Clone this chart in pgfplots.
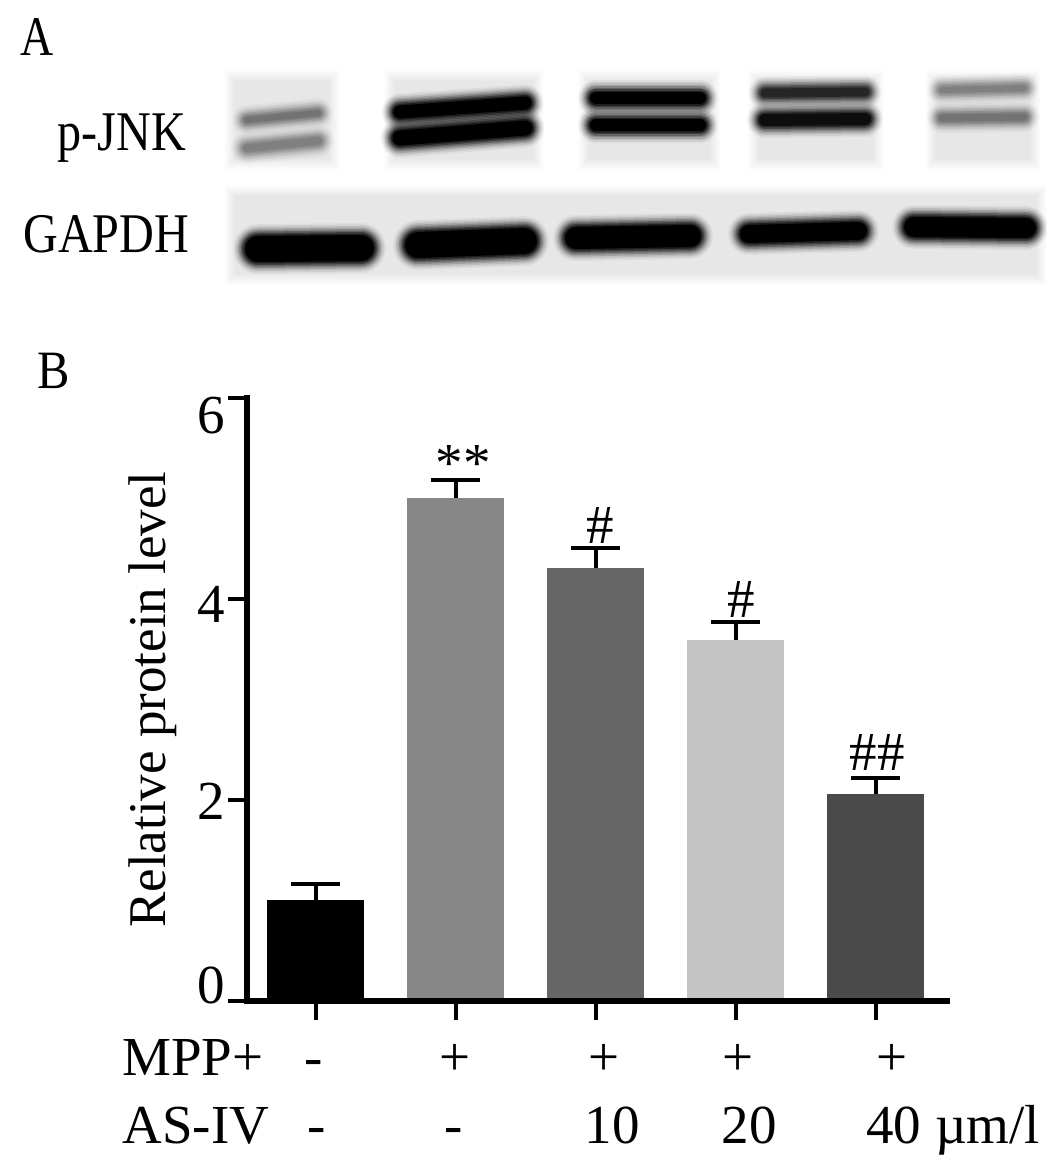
\documentclass[border=0pt]{standalone}
\usepackage{pgfplots}
\pgfplotsset{compat=1.18}
\usepackage{fontspec}
\setmainfont{Liberation Serif}
\newcommand\band[6]{%
  \foreach \w/\o in {24/.04,21/.06,18/.09,15/.13,12/.18,9/.26,6/.36,3/.5}{%
    \draw[#6,line cap=round,line width={(#5+\w)*0.5pt},opacity=\o] (#1,#2)--(#3,#4);
  }%
  \draw[#6,line cap=round,line width={(#5)*0.5pt}] (#1,#2)--(#3,#4);
}
\newcommand\lane[4]{%
  \fill[white] (#1,#2) rectangle (#3,#4);
  \foreach \i in {0,1,2,3,4,5,6,7,8,9,10,11}{%
    \fill[black,opacity=.009] (#1+\i,#2+\i) rectangle (#3-\i,#4-\i);
  }%
}
\newcommand\fnt{\fontsize{27.5}{30}\selectfont}
\begin{document}
\begin{tikzpicture}
\begin{scope}[x=0.5pt,y=-0.5pt]
\path (0,0) rectangle (1063,1174);
% lanes, upper blot
\lane{224}{70}{340}{170}
\lane{384}{70}{544}{170}
\lane{578}{70}{721}{170}
\lane{748}{70}{884}{170}
\lane{925}{70}{1041}{170}
% upper blot bands
\begin{scope}
\clip (224,70) rectangle (1041,170);
\band{247}{120}{318}{113}{6}{black!55}
\band{247}{148}{318}{141}{8}{black!50}
\band{400}{112}{525}{103}{13}{black}
\band{400}{138}{525}{128}{15}{black}
\band{596}{98}{700}{98}{12}{black}
\band{596}{125}{700}{125}{12}{black}
\band{765}{93}{865}{92}{9}{black!85}
\band{765}{120}{865}{119}{12}{black!95}
\band{942}{90}{1024}{88}{6}{black!50}
\band{942}{118}{1024}{117}{7}{black!55}
\end{scope}
% lower blot
\lane{224}{185}{1047}{285}
\begin{scope}
\clip (224,185) rectangle (1047,285);
\band{258}{249}{361}{248}{26}{black}
\band{418}{245}{524}{241}{26}{black}
\band{576}{238}{690}{236}{22}{black}
\band{749}{234}{858}{231}{18}{black}
\band{914}{227}{1026}{228}{20}{black}
\end{scope}
% panel text
\node[anchor=base west,inner sep=0pt] at (20,55) {\fontsize{28}{30}\selectfont\scalebox{.82}[1]{A}};
\node[anchor=base west,inner sep=0pt] at (37,388) {\fontsize{27}{30}\selectfont\scalebox{.9}[1]{B}};
\node[anchor=base west,inner sep=0pt] at (57,150) {\fontsize{28}{30}\selectfont\scalebox{.86}[1]{p-JNK}};
\node[anchor=base west,inner sep=0pt] at (23,252) {\fontsize{28}{30}\selectfont\scalebox{.86}[1]{GAPDH}};
\end{scope}
\begin{axis}[
  at={(123.5pt,-500.5pt)},anchor=south west,
  scale only axis,width=350pt,height=301.5pt,
  xmin=-0.4893,xmax=4.5107,ymin=0,ymax=6,
  axis lines=left,axis line style={line width=2.6pt,-,line cap=rect},
  clip=false,axis on top,
  xtick={0,1,2,3,4},xticklabels={},
  ytick={0,2,4,6},
  yticklabels={\raisebox{-1pt}{0},\raisebox{-9.5pt}{2},\raisebox{-11.5pt}{4},\raisebox{-17.5pt}{6}},
  yticklabel style={anchor=base east,inner sep=0pt,xshift=-1.5pt,font=\fontsize{27.5}{30}\selectfont},
  tick align=outside,major tick length=9.5pt,
  tick style={black,line width=2pt},
  ylabel={Relative protein level},
  ylabel style={font=\fontsize{26.5}{30}\selectfont,at={(rel axis cs:0,0.5)},anchor=base,yshift=41pt},
  bars/.style={ybar,bar width=48.5pt,bar shift=0pt,draw=none,
    error bars/y dir=plus,error bars/y explicit,
    error bars/error bar style={draw=black,line width=2pt},
    error bars/error mark options={rotate=90,mark size=12.25pt,line width=2pt,draw=black}},
]
\addplot[bars,fill=black] coordinates {(0,1.01) +- (0,0.155)};
\addplot[bars,fill=black!47] coordinates {(1,5.01) +- (0,0.17)};
\addplot[bars,fill=black!60] coordinates {(2,4.31) +- (0,0.20)};
\addplot[bars,fill=black!23] coordinates {(3,3.59) +- (0,0.18)};
\addplot[bars,fill=black!71] coordinates {(4,2.06) +- (0,0.16)};
\end{axis}
\begin{scope}[x=0.5pt,y=-0.5pt]
\node[anchor=base,inner sep=0pt] at (463,481) {\fnt **};
\node[anchor=base,inner sep=0pt] at (600,543) {\fnt \#};
\node[anchor=base,inner sep=0pt] at (741,617) {\fnt \#};
\node[anchor=base,inner sep=0pt] at (877,770) {\fnt \#\#};
\node[anchor=base west,inner sep=0pt] at (122,1075) {\fnt MPP+};
\node[anchor=base west,inner sep=0pt] at (122,1143) {\fnt AS-IV};
\node[anchor=base,inner sep=0pt] at (314,1075) {\fnt -};
\node[anchor=base,inner sep=0pt] at (455,1075) {\fnt +};
\node[anchor=base,inner sep=0pt] at (604,1075) {\fnt +};
\node[anchor=base,inner sep=0pt] at (738,1075) {\fnt +};
\node[anchor=base,inner sep=0pt] at (892,1075) {\fnt +};
\node[anchor=base,inner sep=0pt] at (317,1143) {\fnt -};
\node[anchor=base,inner sep=0pt] at (454,1143) {\fnt -};
\node[anchor=base,inner sep=0pt] at (612,1143) {\fnt 10};
\node[anchor=base,inner sep=0pt] at (749,1143) {\fnt 20};
\node[anchor=base west,inner sep=0pt] at (866,1143) {\fnt 40 µm/l};
\end{scope}
\end{tikzpicture}
\end{document}
